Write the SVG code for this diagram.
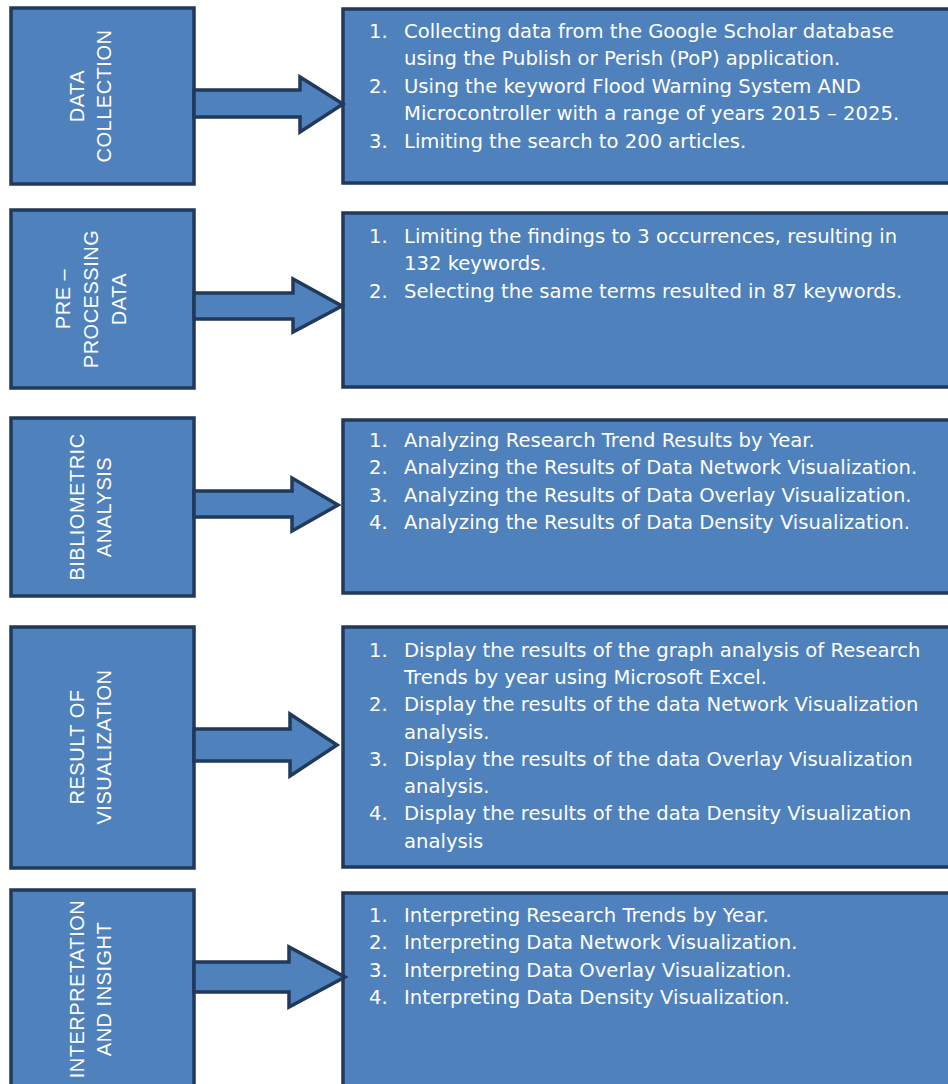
<svg xmlns="http://www.w3.org/2000/svg" width="948" height="1084" viewBox="0 0 948 1084">
<style>
.box{fill:#4F81BD;stroke:#21395A;stroke-width:3.5}
.arr{fill:#4F81BD;stroke:#21395A;stroke-width:3.5;stroke-linejoin:miter}
.lbl{font-family:"Liberation Sans",Arial,sans-serif;font-size:20px;fill:#FFFFFF;text-anchor:middle;letter-spacing:0.5px}
.it{font-family:"DejaVu Sans",Verdana,sans-serif;font-size:19.6px;fill:#FFFFFF}
</style>
<rect width="948" height="1084" fill="#FFFFFF"/>

<g id="step1-label">
<rect class="box" x="11" y="8" width="183" height="176"/>
<text class="lbl" transform="translate(84,96) rotate(-90)">DATA</text>
<text class="lbl" transform="translate(111,96) rotate(-90)">COLLECTION</text>
</g>
<g id="step1-detail">
<rect class="box" x="343" y="9" width="620" height="174"/>
<text class="it" x="369" y="38">1.</text><text class="it" x="404" y="38">Collecting data from the Google Scholar database</text>
<text class="it" x="404" y="65">using the Publish or Perish (PoP) application.</text>
<text class="it" x="369" y="93">2.</text><text class="it" x="404" y="93">Using the keyword Flood Warning System AND</text>
<text class="it" x="404" y="120">Microcontroller with a range of years 2015 – 2025.</text>
<text class="it" x="369" y="148">3.</text><text class="it" x="404" y="148">Limiting the search to 200 articles.</text>
</g>

<g id="step2-label">
<rect class="box" x="11" y="210" width="183" height="178"/>
<text class="lbl" transform="translate(70,299) rotate(-90)">PRE –</text>
<text class="lbl" transform="translate(98,299) rotate(-90)">PROCESSING</text>
<text class="lbl" transform="translate(126,299) rotate(-90)">DATA</text>
</g>
<g id="step2-detail">
<rect class="box" x="343" y="213" width="620" height="174"/>
<text class="it" x="369" y="243">1.</text><text class="it" x="404" y="243">Limiting the findings to 3 occurrences, resulting in</text>
<text class="it" x="404" y="270">132 keywords.</text>
<text class="it" x="369" y="298">2.</text><text class="it" x="404" y="298">Selecting the same terms resulted in 87 keywords.</text>
</g>

<g id="step3-label">
<rect class="box" x="11" y="418" width="183" height="178"/>
<text class="lbl" transform="translate(84,507) rotate(-90)">BIBLIOMETRIC</text>
<text class="lbl" transform="translate(111,507) rotate(-90)">ANALYSIS</text>
</g>
<g id="step3-detail">
<rect class="box" x="343" y="420" width="620" height="173"/>
<text class="it" x="369" y="447">1.</text><text class="it" x="404" y="447">Analyzing Research Trend Results by Year.</text>
<text class="it" x="369" y="474">2.</text><text class="it" x="404" y="474">Analyzing the Results of Data Network Visualization.</text>
<text class="it" x="369" y="502">3.</text><text class="it" x="404" y="502">Analyzing the Results of Data Overlay Visualization.</text>
<text class="it" x="369" y="529">4.</text><text class="it" x="404" y="529">Analyzing the Results of Data Density Visualization.</text>
</g>

<g id="step4-label">
<rect class="box" x="11" y="627" width="183" height="241"/>
<text class="lbl" transform="translate(84,747) rotate(-90)">RESULT OF</text>
<text class="lbl" transform="translate(111,747) rotate(-90)">VISUALIZATION</text>
</g>
<g id="step4-detail">
<rect class="box" x="343" y="627" width="620" height="240"/>
<text class="it" x="369" y="657">1.</text><text class="it" x="404" y="657">Display the results of the graph analysis of Research</text>
<text class="it" x="404" y="684">Trends by year using Microsoft Excel.</text>
<text class="it" x="369" y="711">2.</text><text class="it" x="404" y="711">Display the results of the data Network Visualization</text>
<text class="it" x="404" y="739">analysis.</text>
<text class="it" x="369" y="766">3.</text><text class="it" x="404" y="766">Display the results of the data Overlay Visualization</text>
<text class="it" x="404" y="793">analysis.</text>
<text class="it" x="369" y="820">4.</text><text class="it" x="404" y="820">Display the results of the data Density Visualization</text>
<text class="it" x="404" y="848">analysis</text>
</g>

<g id="step5-label">
<rect class="box" x="11" y="890" width="183" height="210"/>
<text class="lbl" transform="translate(84,989) rotate(-90)">INTERPRETATION</text>
<text class="lbl" transform="translate(111,989) rotate(-90)">AND INSIGHT</text>
</g>
<g id="step5-detail">
<rect class="box" x="343" y="893" width="620" height="207"/>
<text class="it" x="369" y="922">1.</text><text class="it" x="404" y="922">Interpreting Research Trends by Year.</text>
<text class="it" x="369" y="949">2.</text><text class="it" x="404" y="949">Interpreting Data Network Visualization.</text>
<text class="it" x="369" y="977">3.</text><text class="it" x="404" y="977">Interpreting Data Overlay Visualization.</text>
<text class="it" x="369" y="1004">4.</text><text class="it" x="404" y="1004">Interpreting Data Density Visualization.</text>
</g>

<g id="connectors">
<polygon class="arr" points="194,90 300,90 300,77 343,104 300,132 300,117 194,117"/>
<polygon class="arr" points="194,293 293,293 293,279 342,306 293,332 293,319 194,319"/>
<polygon class="arr" points="194,491 292,491 292,478 338,505 292,531 292,517 194,517"/>
<polygon class="arr" points="194,729 290,729 290,714 337,745 290,776 290,761 194,761"/>
<polygon class="arr" points="194,962 289,962 289,947 345,977 289,1007 289,992 194,992"/>
</g>
</svg>
